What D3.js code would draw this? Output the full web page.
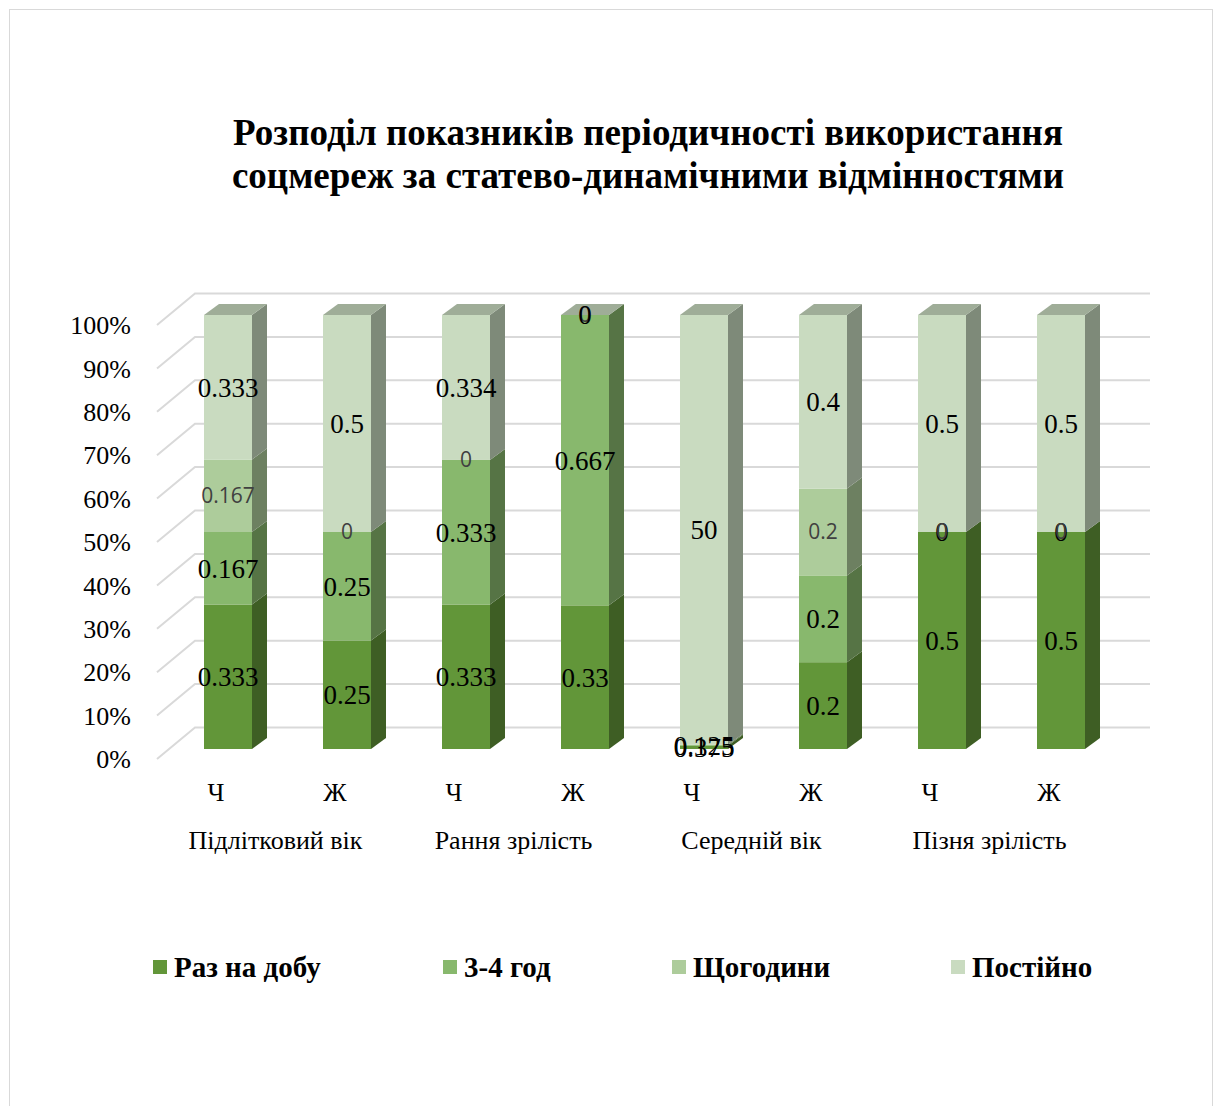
<!DOCTYPE html>
<html>
<head>
<meta charset="utf-8">
<script src="https://cdn.jsdelivr.net/npm/d3@7"></script>
<style>
  html, body { margin: 0; padding: 0; background: #fff; }
  svg { display: block; }
</style>
</head>
<body>
<svg id="chart" width="1218" height="1106"></svg>
<script>
// Age groups and sex within each group
const groups = ["Підлітковий вік", "Рання зрілість", "Середній вік", "Пізня зрілість"];
const sexes = ["Ч", "Ж"];

// Series (frequency of social network use)
const seriesNames = ["Раз на добу", "3-4 год", "Щогодини", "Постійно"];
const seriesColors = ["#629639", "#88b86d", "#adcc9b", "#c9dbc0"];

// Values per column: Підл. Ч, Ж | Рання Ч, Ж | Середній Ч, Ж | Пізня Ч, Ж
const razNaDobu    = [0.333, 0.25, 0.333, 0.33,  0.375, 0.2, 0.5, 0.5];
const tryChotyri   = [0.167, 0.25, 0.333, 0.667, 0.125, 0.2, 0,   0];
const shchohodyny  = [0.167, 0,    0,     0,     null,  0.2, 0,   0];
const postiino     = [0.333, 0.5,  0.334, 0,     50,    0.4, 0.5, 0.5];

const seriesValues = [razNaDobu, tryChotyri, shchohodyny, postiino];

const rows = [];
groups.forEach((g, gi) => sexes.forEach((s, si) => {
  const i = gi * 2 + si;
  const row = { idx: i, group: g, sex: s };
  seriesNames.forEach((n, k) => { row[n] = seriesValues[k][i]; });
  rows.push(row);
}));

const svg = d3.select("#chart");
const serif = "'Liberation Serif', 'Times New Roman', serif";
const sans = "'Open Sans', 'Liberation Sans', sans-serif";

// Outer frame
svg.append("rect")
  .attr("x", 9.5).attr("y", 9.5).attr("width", 1203).attr("height", 1110)
  .attr("fill", "#fff").attr("stroke", "#d9d9d9").attr("stroke-width", 1);

// Title
const title = svg.append("text")
  .attr("text-anchor", "middle")
  .attr("font-family", serif).attr("font-weight", "bold").attr("font-size", 37)
  .attr("fill", "#000");
title.append("tspan").attr("x", 648).attr("y", 145).text("Розподіл показників періодичності використання");
title.append("tspan").attr("x", 648).attr("y", 188).text("соцмереж за статево-динамічними відмінностями");

// Scales
const x = d3.scaleBand()
  .domain(rows.map(d => d.idx))
  .range([168.5, 1120.5])
  .paddingInner(1 - 48 / 119)
  .paddingOuter((1 - 48 / 119) / 2);

const y = d3.scaleLinear().domain([0, 1]).range([749, 315]);

// 3D offsets
const depth = { dx: 15, dy: -11 };
const wall = { backDy: -21.5, frontDy: 10, frontX: 157, backX: 195, rightX: 1150 };

// Gridlines (back wall + left wall diagonals)
const ticks = y.ticks(10);
const grid = svg.append("g").attr("stroke", "#d9d9d9").attr("stroke-width", 2).attr("fill", "none");
ticks.forEach(t => {
  const yb = y(t) + wall.backDy;
  const yf = y(t) + wall.frontDy;
  grid.append("path")
    .attr("d", `M${wall.frontX},${yf}L${wall.backX},${yb}L${wall.rightX},${yb}`);
});

// Y axis labels
svg.append("g")
  .attr("font-family", serif).attr("font-size", 26).attr("fill", "#000")
  .attr("text-anchor", "end")
  .selectAll("text").data(ticks).join("text")
  .attr("x", 131).attr("y", t => y(t) + wall.frontDy)
  .attr("dy", "0.35em")
  .text(d3.format(".0%"));

// Stack normalised to 100%
const stack = d3.stack()
  .keys(seriesNames)
  .value((d, k) => d[k] == null ? 0 : d[k])
  .offset(d3.stackOffsetExpand);
const layers = stack(rows);

const shade = (c, k) => d3.color(c).darker(k).formatHex();

// 3D columns: front face, right side face per segment, top face of the last series
const bars = svg.append("g");
rows.forEach((row, i) => {
  const x0 = x(row.idx), x1 = x0 + x.bandwidth();
  layers.forEach((layer, k) => {
    const seg = layer[i];
    const yb = y(seg[0]), yt = y(seg[1]);
    const col = seriesColors[k];
    bars.append("rect")
      .attr("x", x0).attr("y", yt).attr("width", x1 - x0).attr("height", Math.max(0, yb - yt))
      .attr("fill", col);
    bars.append("path")
      .attr("d", `M${x1},${yt}L${x1 + depth.dx},${yt + depth.dy}L${x1 + depth.dx},${yb + depth.dy}L${x1},${yb}Z`)
      .attr("fill", shade(col, 1.3));
  });
  const last = layers.length - 1;
  const yt = y(layers[last][i][1]);
  bars.append("path")
    .attr("d", `M${x0},${yt}L${x0 + depth.dx},${yt + depth.dy}L${x1 + depth.dx},${yt + depth.dy}L${x1},${yt}Z`)
    .attr("fill", shade(seriesColors[last], 0.66));
});

// Data labels
const labels = svg.append("g").attr("text-anchor", "middle");
layers.forEach((layer, k) => {
  layer.forEach((seg, i) => {
    const v = rows[i][seriesNames[k]];
    if (v == null) return;
    const cx = x(rows[i].idx) + x.bandwidth() / 2;
    const cy = (y(seg[0]) + y(seg[1])) / 2;
    const isSans = k === 2;
    labels.append("text")
      .attr("x", cx).attr("y", cy).attr("dy", "0.35em")
      .attr("font-family", isSans ? sans : serif)
      .attr("font-size", isSans ? 21 : 27)
      .attr("fill", isSans ? "#404040" : "#000")
      .text(v);
  });
});

// Category labels (sex) and group labels
const catG = svg.append("g").attr("font-family", serif).attr("font-size", 26)
  .attr("fill", "#000").attr("text-anchor", "middle");
rows.forEach(row => {
  catG.append("text")
    .attr("x", x(row.idx) + x.bandwidth() / 2 - 12).attr("y", 792).attr("dy", "0.35em")
    .text(row.sex);
});
groups.forEach((g, gi) => {
  const a = x(gi * 2) + x.bandwidth() / 2 - 12;
  const b = x(gi * 2 + 1) + x.bandwidth() / 2 - 12;
  catG.append("text")
    .attr("x", (a + b) / 2).attr("y", 840).attr("dy", "0.35em")
    .text(g);
});

// Legend
const legendX = [153, 443, 672, 951];
const legend = svg.append("g").attr("font-family", serif).attr("font-weight", "bold")
  .attr("font-size", 29).attr("fill", "#000");
seriesNames.forEach((n, k) => {
  legend.append("rect")
    .attr("x", legendX[k]).attr("y", 960).attr("width", 14).attr("height", 14)
    .attr("fill", seriesColors[k]);
  legend.append("text")
    .attr("x", legendX[k] + 21).attr("y", 967).attr("dy", "0.35em")
    .text(n);
});
</script>
</body>
</html>
